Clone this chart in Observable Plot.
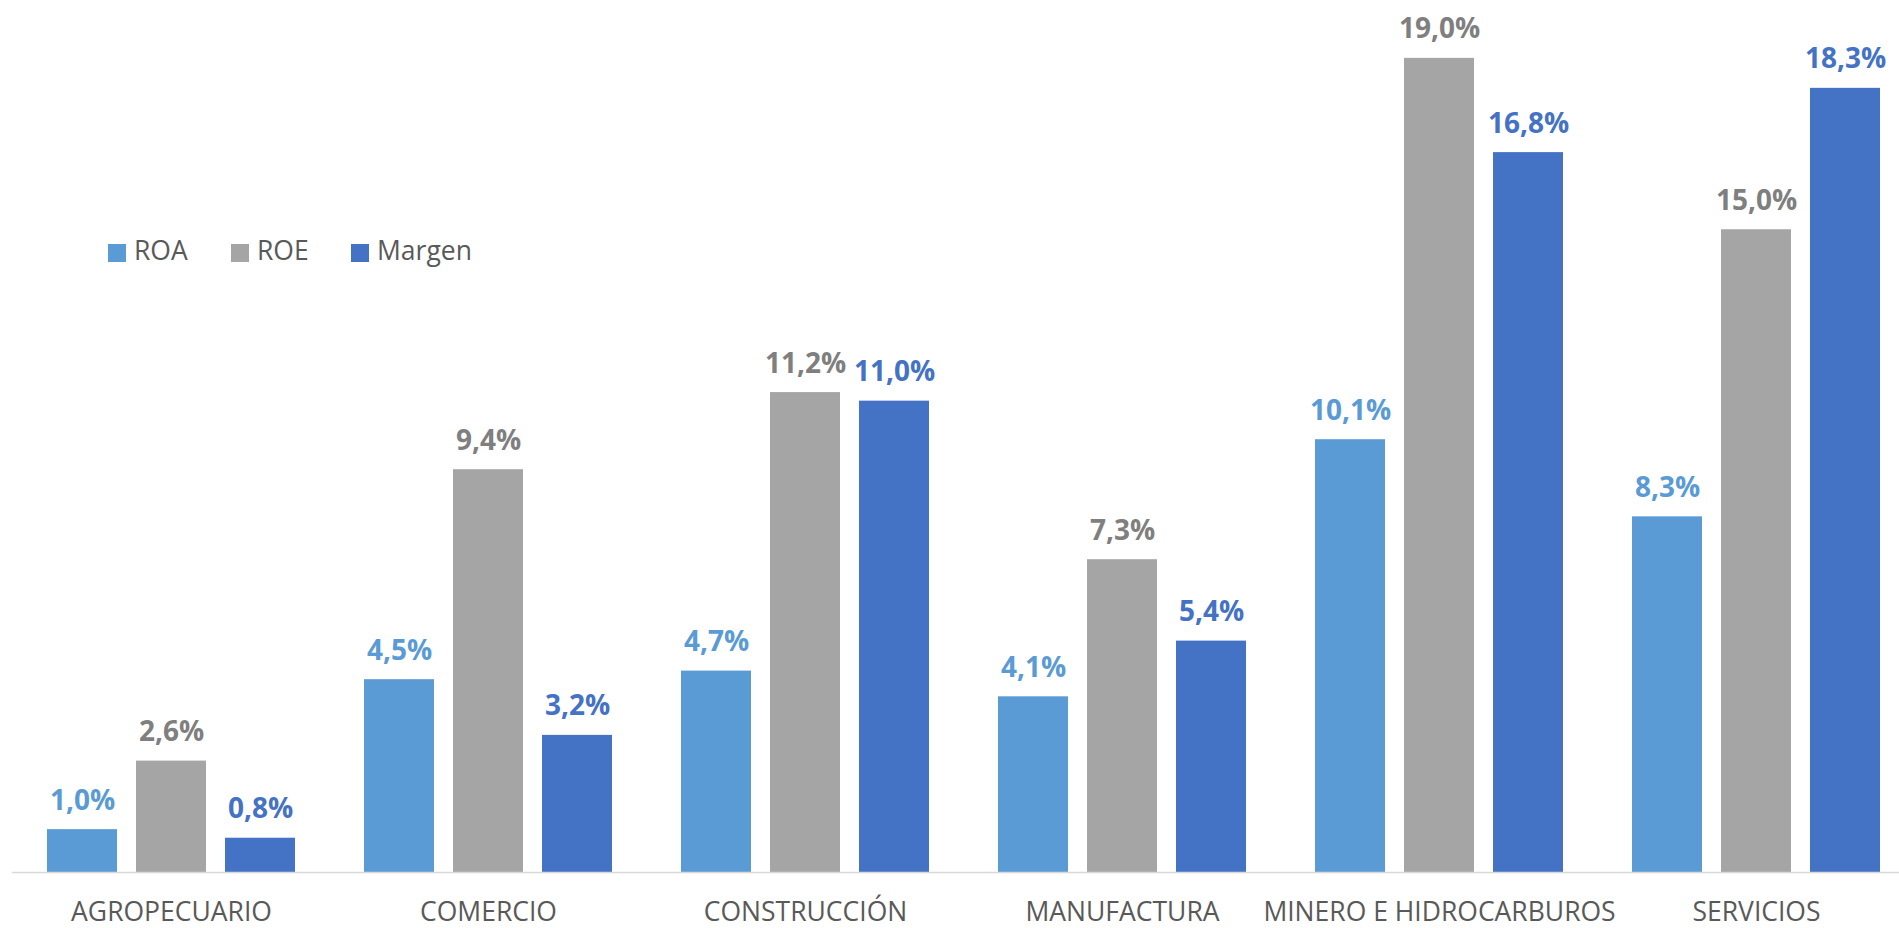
<!DOCTYPE html>
<html>
<head>
<meta charset="utf-8">
<script src="https://cdn.jsdelivr.net/npm/d3@7"></script>
<script src="https://cdn.jsdelivr.net/npm/@observablehq/plot@0.6"></script>
<style>
  html, body { margin: 0; padding: 0; background: #fff; }
  #wrap { position: relative; width: 1899px; height: 928px; overflow: hidden; }
  #legend { position: absolute; left: 108px; top: 236px; font-family: "Open Sans", sans-serif; font-size: 26.5px; color: #595959; }
  .item { position: absolute; top: 0; white-space: nowrap; line-height: 34px; height: 34px; }
  .sw { position: absolute; top: 8px; width: 18px; height: 18px; }
  .lab { position: absolute; top: -3px; }
</style>
</head>
<body>
<div id="wrap">
  <div id="chart"></div>
  <div id="legend"></div>
</div>
<script>
const categories = ["AGROPECUARIO", "COMERCIO", "CONSTRUCCIÓN", "MANUFACTURA", "MINERO E HIDROCARBUROS", "SERVICIOS"];
const seriesNames = ["ROA", "ROE", "Margen"];
const roa = [1.0, 4.5, 4.7, 4.1, 10.1, 8.3];
const roe = [2.6, 9.4, 11.2, 7.3, 19.0, 15.0];
const margen = [0.8, 3.2, 11.0, 5.4, 16.8, 18.3];

const barColors = {ROA: "#5B9BD5", ROE: "#A5A5A5", Margen: "#4472C4"};
const labelColors = {ROA: "#5B9BD5", ROE: "#7F7F7F", Margen: "#4472C4"};

const seriesValues = {ROA: roa, ROE: roe, Margen: margen};
const data = [];
for (const s of seriesNames) {
  categories.forEach((c, i) => data.push({category: c, series: s, value: seriesValues[s][i]}));
}
const fmt = v => v.toFixed(1).replace(".", ",") + "%";

// bar layout within each category band: 3 bars of 70px with 19px gaps (band = 248px)
const layout = {
  ROA:    {insetLeft: 0,   insetRight: 178, dx: -89},
  ROE:    {insetLeft: 89,  insetRight: 89,  dx: 0},
  Margen: {insetLeft: 178, insetRight: 0,   dx: 89}
};

const marks = [];
for (const s of seriesNames) {
  const d = data.filter(r => r.series === s);
  marks.push(Plot.barY(d, {
    x: "category", y: "value", fill: barColors[s],
    insetLeft: layout[s].insetLeft, insetRight: layout[s].insetRight
  }));
}
marks.push(Plot.ruleY([0], {stroke: "#D9D9D9", strokeWidth: 1.5}));
for (const s of seriesNames) {
  const d = data.filter(r => r.series === s);
  marks.push(Plot.text(d, {
    x: "category", y: "value", text: r => fmt(r.value),
    dx: layout[s].dx, dy: -20, lineAnchor: "bottom",
    fill: labelColors[s], fontSize: 28, fontWeight: "bold"
  }));
}
marks.push(Plot.axisX({tickSize: 0, tickPadding: 30, fontSize: 26.5, color: "#595959", label: null}));

const chart = Plot.plot({
  width: 1899,
  height: 928,
  marginLeft: 12,
  marginRight: 0,
  marginTop: 15,
  marginBottom: 56,
  style: {fontFamily: "'Open Sans', sans-serif", background: "#fff", overflow: "visible"},
  x: {type: "band", domain: categories, range: [12, 1914], paddingInner: 69 / 317, paddingOuter: 34.5 / 317, axis: null},
  y: {domain: [0, 20], range: [872, 15], axis: null},
  marks
});
document.getElementById("chart").appendChild(chart);

// legend
const legend = document.getElementById("legend");
const offsets = {ROA: 0, ROE: 123, Margen: 243};
for (const s of seriesNames) {
  const it = document.createElement("div");
  it.className = "item";
  it.style.left = offsets[s] + "px";
  it.innerHTML = `<span class="sw" style="left:0;background:${barColors[s]}"></span><span class="lab" style="left:26px">${s}</span>`;
  legend.appendChild(it);
}
</script>
</body>
</html>
